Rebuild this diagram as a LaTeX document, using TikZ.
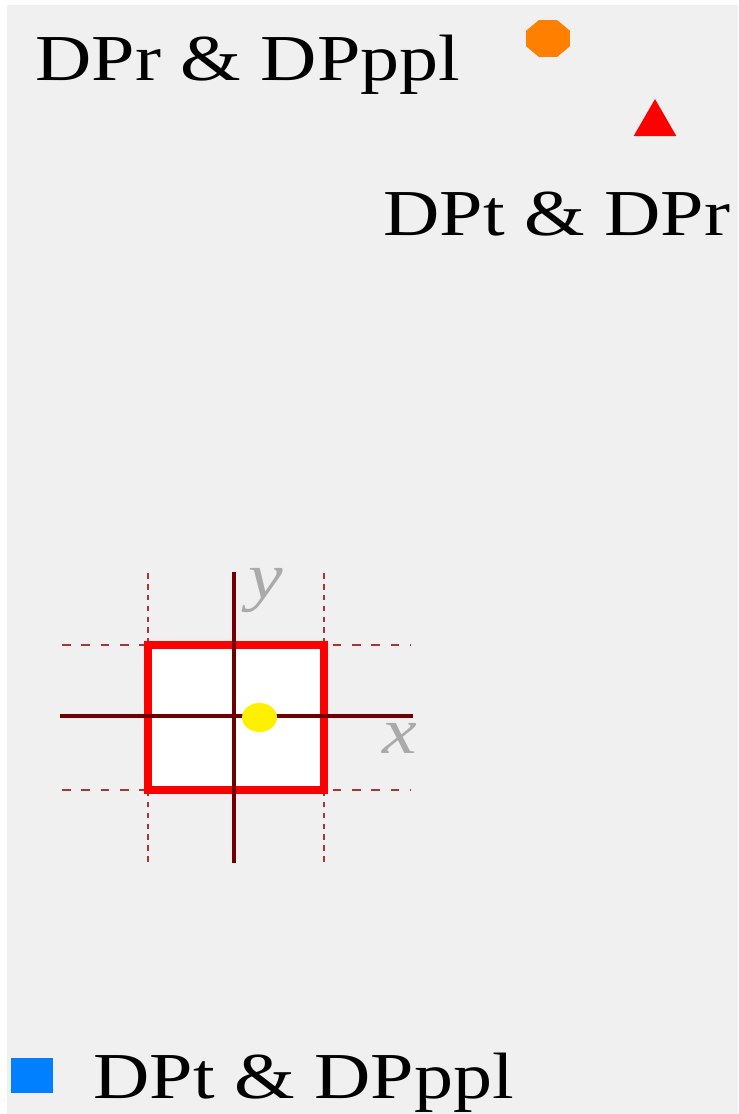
\documentclass[tikz,border=0pt]{standalone}
\usepackage{fontspec}
\setmainfont{Liberation Serif}
\usetikzlibrary{shapes.geometric}

\definecolor{bggray}{RGB}{240,240,240}
\definecolor{axisred}{RGB}{110,0,0}
\definecolor{gridred}{RGB}{165,55,55}
\definecolor{cellred}{RGB}{255,0,0}
\definecolor{dotyellow}{RGB}{255,240,0}
\definecolor{mkorange}{RGB}{255,128,0}
\definecolor{mkblue}{RGB}{0,128,255}
\definecolor{lblgray}{RGB}{170,170,170}

\begin{document}
\begin{tikzpicture}[
  x=0.02cm,y=-0.02cm,
  lbl/.style={font=\fontsize{37.3}{45}\selectfont,inner sep=0pt,xscale=1.19,anchor=base west},
  axlbl/.style={font=\fontsize{37.3}{45}\selectfont\itshape,text=lblgray,inner sep=0pt,xscale=1.19},
  cell/.style={rectangle,draw=cellred,fill=white,line width=4.6pt,minimum width=3.52cm,minimum height=2.9cm,inner sep=0pt},
  axis/.style={draw=axisred,line width=2pt},
  gridh/.style={draw=gridred,line width=1.2pt,dash pattern=on 5pt off 6pt},
  gridv/.style={draw=gridred,line width=1.4pt,dash pattern=on 3.2pt off 3pt},
  octa/.style={regular polygon,regular polygon sides=8,fill=mkorange,minimum size=0.8cm,inner sep=0pt,xscale=1.19},
  tri/.style={regular polygon,regular polygon sides=3,fill=cellred,minimum size=0.986cm,inner sep=0pt},
  sq/.style={rectangle,fill=mkblue,minimum width=0.84cm,minimum height=0.7cm,inner sep=0pt}
]
\useasboundingbox (0,0) rectangle (738,1114);
\fill[white] (0,0) rectangle (738,1114);
\fill[bggray] (7,5) rectangle (738,1114);

% legend marks and texts
\node[octa] (rppl) at (548,38.5) {};
\node[tri] (tr) at (655,123.7) {};
\node[sq] (tppl) at (32,1075.5) {};
\node[lbl] (rppltext) at (35,81) {DPr \& DPppl};
\node[lbl] (trtext) at (383,236) {DPt \& DPr};
\node[lbl] (tppltext) at (93,1098) {DPt \& DPppl};

% cell with its grid
\foreach \yy in {645,790} \draw[gridh] (62,\yy) -- (410,\yy);
\foreach \xx in {148,324} \draw[gridv] (\xx,573) -- (\xx,862);
\node[cell] (cell) at (236,717.5) {};

% axes
\coordinate (xl) at (60,716);
\coordinate (xr) at (413,716);
\coordinate (yb) at (234,863);
\coordinate (yt) at (234,572);
\draw[axis] (xl) -- (xr);
\draw[axis] (yb) -- (yt);
\node[axlbl] (ylbl) at (265.5,591) {y};
\node[axlbl] (xlbl) at (400,738) {x};

\node[ellipse,fill=dotyellow,minimum width=0.7cm,minimum height=0.58cm,inner sep=0pt] (pt) at (259.5,717.5) {};
\end{tikzpicture}
\end{document}
